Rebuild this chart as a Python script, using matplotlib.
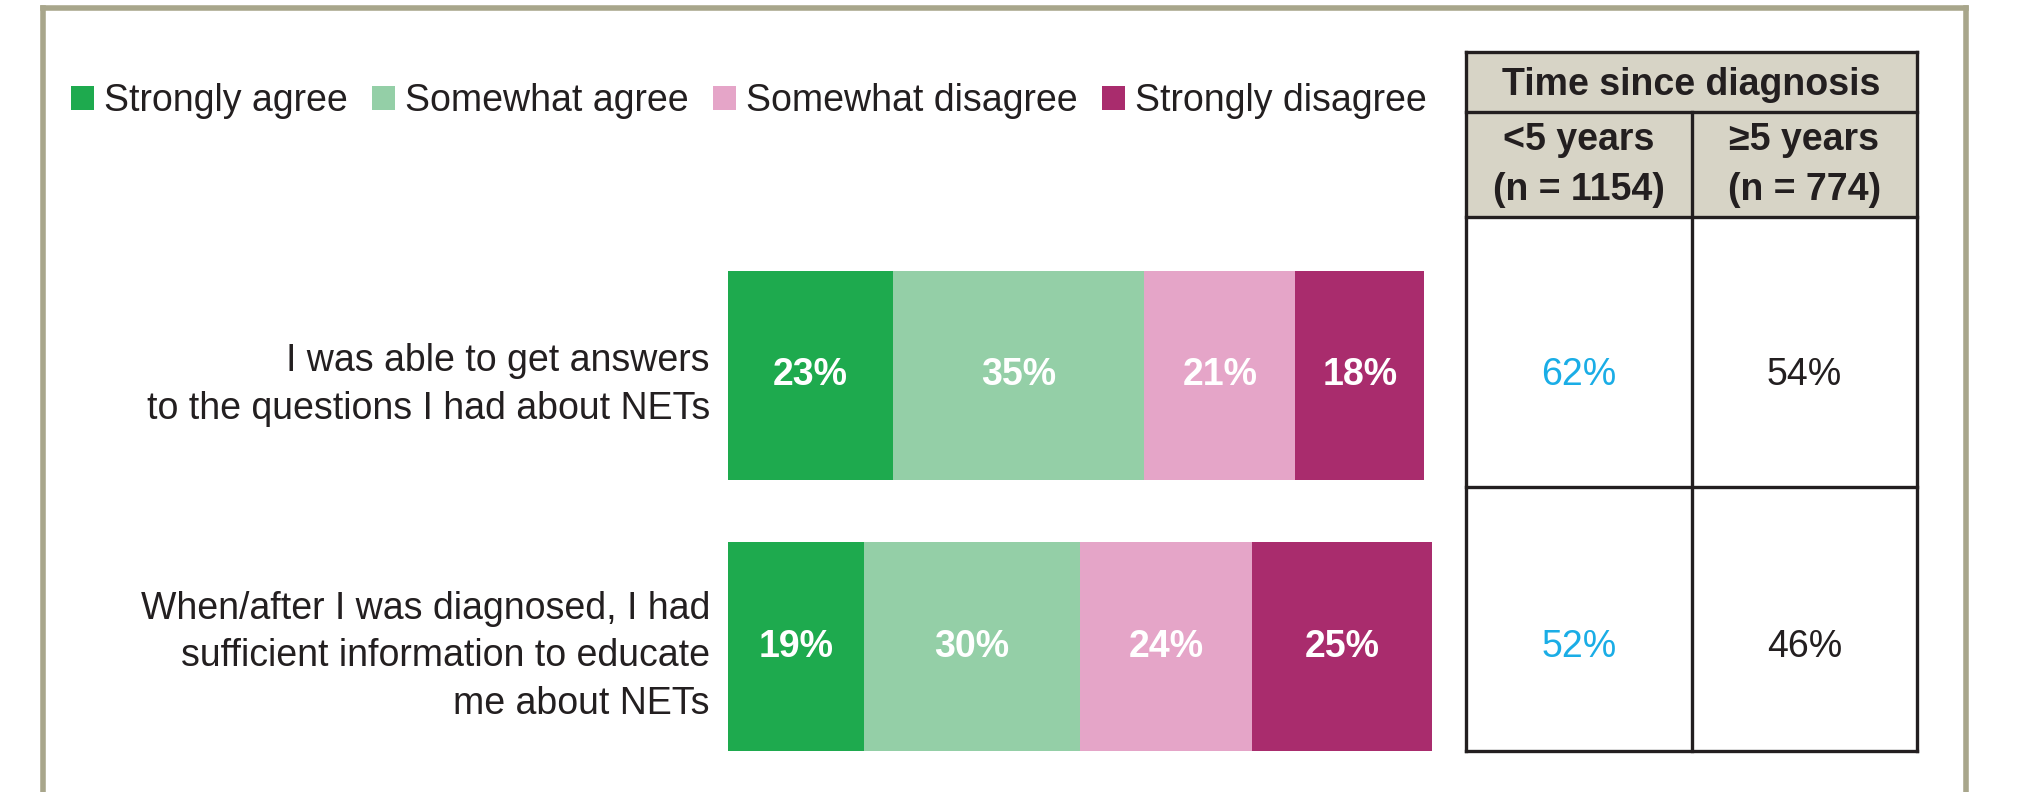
import matplotlib.pyplot as plt
from matplotlib.patches import Rectangle
from matplotlib.lines import Line2D
from matplotlib.transforms import blended_transform_factory

plt.rcParams['font.family'] = ['Liberation Sans', 'DejaVu Sans']

# data
statements = ["I was able to get answers\nto the questions I had about NETs",
              "When/after I was diagnosed, I had\nsufficient information to educate\nme about NETs"]
categories = ["Strongly agree", "Somewhat agree", "Somewhat disagree", "Strongly disagree"]
strongly_agree = [23, 19]
somewhat_agree = [35, 30]
somewhat_disagree = [21, 24]
strongly_disagree = [18, 25]
colors = ["#1EAA4E", "#94CFA7", "#E5A5C8", "#A92C6D"]

table_title = "Time since diagnosis"
groups = ["<5 years\n(n = 1154)", "\u22655 years\n(n = 774)"]
agree_lt5 = [62, 52]
agree_ge5 = [54, 46]

W, H = 2021, 792
fig = plt.figure(figsize=(W / 100, H / 100), dpi=100)
fs = 27
dark = "#231F20"

# stacked bars
ax = fig.add_axes([728 / W, 1 - 751 / H, 718 / W, 480 / H])
ypos = [1, 0]
h = 0.771
left = [0, 0]
handles = []
for name, vals, col in zip(categories,
                           [strongly_agree, somewhat_agree, somewhat_disagree, strongly_disagree],
                           colors):
    bars = ax.barh(ypos, vals, left=left, height=h, color=col, label=name)
    ax.bar_label(bars, labels=[f"{v}%" for v in vals], label_type="center",
                 color="white", fontweight="bold", fontsize=fs)
    handles.append(bars)
    left = [l + v for l, v in zip(left, vals)]

ax.set_xlim(0, 100)
ax.set_ylim(-h / 2, 1 + h / 2)
ax.set_xticks([])
ax.set_yticks(ypos, statements, fontsize=fs, color=dark, linespacing=1.42)
ax.tick_params(axis="y", length=0, pad=13)
for s in ax.spines.values():
    s.set_visible(False)

fig.legend(handles, categories, loc="center left", bbox_to_anchor=(71 / W, 1 - 101 / H),
           ncol=4, frameon=False, fontsize=fs, handlelength=0.6, handleheight=0.6,
           handletextpad=0.27, columnspacing=0.66, borderpad=0, borderaxespad=0,
           labelcolor=dark)

# table
ax_t = fig.add_axes([1466 / W, 1 - 751 / H, 451 / W, 699 / H])
ax_t.set_xlim(0, 2)
ax_t.set_ylim(699, 0)
ax_t.axis("off")
rows = [0, 60, 165, 435, 699]
ax_t.add_patch(Rectangle((0, 0), 2, rows[2], facecolor="#D7D4C6", edgecolor="none"))
for r in rows:
    ax_t.plot([0, 2], [r, r], color=dark, lw=2.4, clip_on=False, solid_capstyle="projecting")
ax_t.plot([0, 0], [0, 699], color=dark, lw=2.4, clip_on=False, solid_capstyle="projecting")
ax_t.plot([2, 2], [0, 699], color=dark, lw=2.4, clip_on=False, solid_capstyle="projecting")
ax_t.plot([1, 1], [rows[1], 699], color=dark, lw=2.4, clip_on=False)

ax_t.text(1, (rows[0] + rows[1]) / 2 + 3, table_title, ha="center", va="center",
          fontsize=fs, fontweight="bold", color=dark)
for i, g in enumerate(groups):
    ax_t.text(i + 0.5, (rows[1] + rows[2]) / 2 + 1, g, ha="center", va="center",
              fontsize=fs, fontweight="bold", color=dark, linespacing=1.5)

tr = blended_transform_factory(ax_t.transData, ax.transData)
for y, a, b in zip(ypos, agree_lt5, agree_ge5):
    ax_t.text(0.5, y, f"{a}%", transform=tr, ha="center", va="center",
              fontsize=fs, color="#1AADE6")
    ax_t.text(1.5, y, f"{b}%", transform=tr, ha="center", va="center",
              fontsize=fs, color=dark)

# outer frame
fc = "#A8A68B"
fig.add_artist(Line2D([43 / W, 43 / W], [0, 1 - 8 / H], color=fc, lw=4))
fig.add_artist(Line2D([43 / W, 1966 / W], [1 - 8 / H, 1 - 8 / H], color=fc, lw=4))
fig.add_artist(Line2D([1966 / W, 1966 / W], [0, 1 - 8 / H], color=fc, lw=4))

fig.savefig("out.png", dpi=100)
